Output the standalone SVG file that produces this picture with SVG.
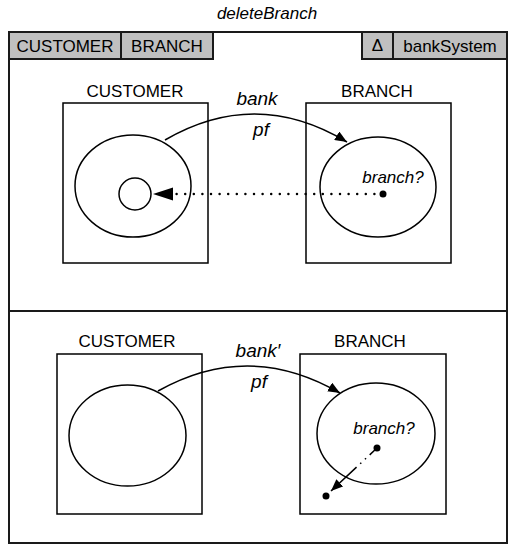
<svg xmlns="http://www.w3.org/2000/svg" width="510" height="545" viewBox="0 0 510 545">
  <style>
    text { font-family: "Liberation Sans", Arial, sans-serif; font-size: 17px; fill: #000; }
    .it { font-style: italic; }
    .rel { font-size: 19px; }
    .frame { fill: none; stroke: #1a1a1a; stroke-width: 2; }
    .tab { fill: #c0c0c0; stroke: #1a1a1a; stroke-width: 2; }
    .box { fill: none; stroke: #000; stroke-width: 1.5; }
    .set { fill: none; stroke: #000; stroke-width: 1.5; }
    .conn { fill: none; stroke: #000; stroke-width: 1.5; }
    .dots { fill: none; stroke: #000; stroke-width: 2.5; stroke-linecap: round; stroke-dasharray: 0 8.6; }
  </style>
  <defs>
    <marker id="arrow" viewBox="0 0 12 10" refX="12" refY="5" markerWidth="12" markerHeight="10" markerUnits="userSpaceOnUse" orient="auto">
      <path d="M0,0 L12,5 L0,10 z" fill="#000"/>
    </marker>
  </defs>

  <!-- schema title -->
  <text class="it" x="267" y="19" text-anchor="middle">deleteBranch</text>

  <!-- schema frame with header tabs -->
  <g id="frame">
    <rect class="frame" x="9" y="32" width="498" height="511"/>
    <line class="frame" x1="9" y1="59" x2="507" y2="59"/>
    <line class="frame" x1="9" y1="311" x2="507" y2="311"/>
    <line x1="213" y1="59" x2="362" y2="59" stroke="#fff" stroke-width="3"/>
    <line class="frame" x1="213" y1="32" x2="362" y2="32"/>
  </g>
  <g id="tab-customer">
    <rect class="tab" x="9" y="32" width="112" height="27"/>
    <text x="65" y="52" text-anchor="middle">CUSTOMER</text>
  </g>
  <g id="tab-branch">
    <rect class="tab" x="121" y="32" width="92" height="27"/>
    <text x="167" y="52" text-anchor="middle">BRANCH</text>
  </g>
  <g id="tab-delta">
    <rect class="tab" x="362" y="32" width="31" height="27"/>
    <text x="377.5" y="51" text-anchor="middle">Δ</text>
  </g>
  <g id="tab-banksystem">
    <rect class="tab" x="393" y="32" width="114" height="27"/>
    <text x="450" y="52" text-anchor="middle">bankSystem</text>
  </g>

  <!-- before state -->
  <g id="customer-before">
    <text x="135" y="97" text-anchor="middle">CUSTOMER</text>
    <rect class="box" x="63" y="103" width="145" height="160"/>
    <ellipse class="set" cx="133" cy="186" rx="58" ry="51"/>
    <circle class="set" cx="135" cy="194" r="16"/>
  </g>
  <g id="branch-before">
    <text x="377" y="97" text-anchor="middle">BRANCH</text>
    <rect class="box" x="306" y="103" width="145" height="160"/>
    <ellipse class="set" cx="378" cy="187" rx="58" ry="50"/>
    <text class="it" x="393" y="183" text-anchor="middle">branch?</text>
    <circle cx="383" cy="194" r="3.5" fill="#000"/>
  </g>

  <!-- after state -->
  <g id="customer-after">
    <text x="127" y="347" text-anchor="middle">CUSTOMER</text>
    <rect class="box" x="57" y="354" width="145" height="160"/>
    <ellipse class="set" cx="127.5" cy="435.5" rx="58.5" ry="50.5"/>
  </g>
  <g id="branch-after">
    <text x="370" y="347" text-anchor="middle">BRANCH</text>
    <rect class="box" x="300" y="354" width="146" height="160"/>
    <ellipse class="set" cx="376" cy="433.5" rx="59" ry="50.5"/>
    <text class="it" x="384" y="434" text-anchor="middle" font-size="16">branch?</text>
    <circle cx="377" cy="448" r="3.5" fill="#000"/>
    <circle cx="326" cy="496" r="3.5" fill="#000"/>
  </g>

  <!-- connectors -->
  <g id="connectors">
    <path class="conn" d="M165,140 Q256,87 347,142" marker-end="url(#arrow)"/>
    <text class="it rel" x="257" y="105" text-anchor="middle">bank</text>
    <text class="it rel" x="261" y="136" text-anchor="middle">pf</text>

    <path class="dots" d="M383,194 L173,194"/>
    <path d="M153,194 L173,187.5 L173,200.5 z" fill="#000"/>

    <path class="conn" d="M158,391 Q249,340 340,393" marker-end="url(#arrow)"/>
    <text class="it rel" x="258" y="357" text-anchor="middle">bank′</text>
    <text class="it rel" x="259" y="388" text-anchor="middle">pf</text>

    <path class="conn" d="M377,448 L331,491" stroke-dasharray="10 5 1.5 5 1.5 5 40" marker-end="url(#arrow)"/>
  </g>
</svg>
